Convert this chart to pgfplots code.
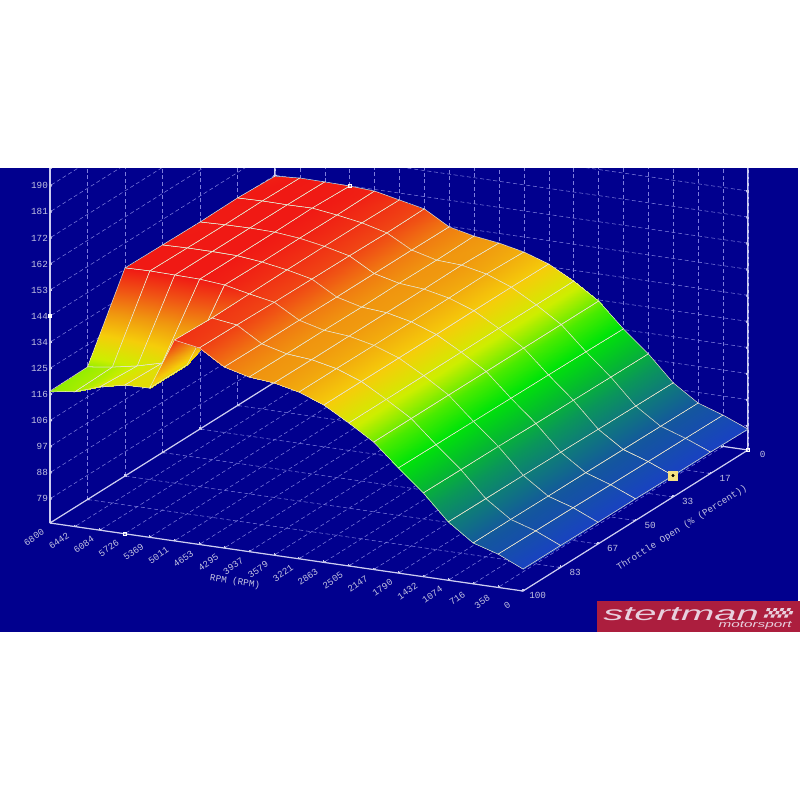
\documentclass[border=0pt]{standalone}
\usepackage{fontspec}
\usepackage{pgfplots}
\pgfplotsset{compat=1.18}
\setmainfont{Liberation Sans}
\newfontfamily\codefont{Liberation Mono}
\pgfdeclarelayer{background}
\pgfsetlayers{background,main}
\definecolor{bgblue}{RGB}{1,0,142}
\definecolor{axline}{RGB}{205,205,240}
\definecolor{gridc}{RGB}{125,125,220}
\definecolor{labc}{RGB}{195,195,225}
\definecolor{logored}{RGB}{172,30,62}
\definecolor{logotext}{RGB}{232,208,222}
\definecolor{markyellow}{RGB}{245,225,130}
\begin{document}
\begin{tikzpicture}
\begin{axis}[
  x={(-0.052169pt,0.0075pt)},
  y={(-1.6875pt,-1.0575pt)},
  z={(0pt,2.115pt)},
  xmin=0,xmax=6800,ymin=0,ymax=100,zmin=70.4,zmax=196.3,
  clip=false,
  xtick={0,358,716,1074,1432,1790,2147,2505,2863,3221,3579,3937,4295,4653,5011,5369,5726,6084,6442,6800},
  xticklabels={0,358,716,1074,1432,1790,2147,2505,2863,3221,3579,3937,4295,4653,5011,5369,5726,6084,6442,6800},
  ytick={0,16.67,33.33,50,66.67,83.33,100},
  yticklabels={0,17,33,50,67,83,100},
  ztick={79,88.25,97.5,106.75,116,125.25,134.5,143.75,153,162.25,171.5,180.75,190},
  zticklabels={79,88,97,106,116,125,134,144,153,162,172,181,190},
  grid=major,
  grid style={gridc,densely dashed,line width=0.4pt},
  axis line style={axline,line width=0.9pt},
  major tick style={axline,line width=0.8pt},
  major tick length=1.5pt,
  tick label style={font=\codefont\fontsize{7}{7.5}\selectfont,text=labc},
  x tick label style={rotate=35,anchor=center,xshift=-16pt,yshift=-2pt},
  y tick label style={anchor=center,xshift=11pt,yshift=-3.5pt},
  z tick label style={anchor=east,xshift=2pt},
  colormap={engine}{
    rgb255(0pt)=(25,65,195) rgb255(6pt)=(20,85,160) rgb255(12pt)=(15,120,125)
    rgb255(18pt)=(10,150,90) rgb255(24pt)=(5,188,45) rgb255(30pt)=(0,228,8)
    rgb255(36pt)=(75,235,0) rgb255(42pt)=(205,238,0) rgb255(48pt)=(245,205,10)
    rgb255(54pt)=(240,150,15) rgb255(60pt)=(240,85,20) rgb255(66pt)=(240,25,20)},
  point meta min=78,point meta max=144,
]
\addplot3[surf,shader=faceted interp,faceted color={rgb,255:red,232;green,228;blue,205},
  line width=0.38pt,z buffer=sort,mesh/cols=20,mesh/rows=7] coordinates {
(6800,0,143.4)(6442,0,144)(6084,0,143.9)(5726,0,143.7)(5369,0,143.2)(5011,0,141.3)(4653,0,139.4)(4295,0,134.3)(3937,0,132.3)(3579,0,131.1)(3221,0,129.2)(2863,0,126.2)(2505,0,121.4)(2147,0,115.6)(1790,0,107)(1432,0,99.4)(1074,0,90.4)(716,0,84.5)(358,0,81.5)(0,0,77.8)
(6800,16.67,144)(6442,16.67,144.2)(6084,16.67,144.1)(5726,16.67,144.2)(5369,16.67,143)(5011,16.67,141.5)(4653,16.67,139.2)(4295,16.67,134.4)(3937,16.67,132.1)(3579,16.67,131.6)(3221,16.67,129.7)(2863,16.67,126.3)(2505,16.67,121.3)(2147,16.67,115.6)(1790,16.67,107.2)(1432,16.67,99.5)(1074,16.67,90.5)(716,16.67,84.6)(358,16.67,81.6)(0,16.67,78)
(6800,33.33,143.8)(6442,33.33,144.1)(6084,33.33,144.2)(5726,33.33,144)(5369,33.33,143.1)(5011,33.33,141.5)(4653,33.33,139.4)(4295,33.33,134.4)(3937,33.33,132.2)(3579,33.33,131.4)(3221,33.33,129.5)(2863,33.33,126.3)(2505,33.33,121.3)(2147,33.33,115.6)(1790,33.33,107.3)(1432,33.33,99.6)(1074,33.33,90.6)(716,33.33,84.7)(358,33.33,81.7)(0,33.33,78)
(6800,50,144)(6442,50,144.2)(6084,50,144.2)(5726,50,144)(5369,50,143)(5011,50,141.5)(4653,50,139.5)(4295,50,134.4)(3937,50,132.1)(3579,50,131.4)(3221,50,129.4)(2863,50,126.2)(2505,50,121.2)(2147,50,115.6)(1790,50,107.4)(1432,50,99.7)(1074,50,90.8)(716,50,84.8)(358,50,81.8)(0,50,78.1)
(6800,66.67,144.2)(6442,66.67,144.4)(6084,66.67,144.2)(5726,66.67,144)(5369,66.67,143.2)(5011,66.67,141.3)(4653,66.67,139.6)(4295,66.67,134.5)(3937,66.67,132.2)(3579,66.67,131.4)(3221,66.67,129.4)(2863,66.67,126.2)(2505,66.67,121.2)(2147,66.67,115.6)(1790,66.67,107.5)(1432,66.67,99.9)(1074,66.67,90.9)(716,66.67,84.8)(358,66.67,82)(0,66.67,78.1)
(6800,83.33,117.4)(6442,83.33,118.6)(6084,83.33,120.3)(5726,83.33,122.6)(5369,83.33,123.2)(5011,83.33,141.1)(4653,83.33,139.9)(4295,83.33,134.5)(3937,83.33,132.2)(3579,83.33,131.4)(3221,83.33,129.5)(2863,83.33,126.2)(2505,83.33,121.1)(2147,83.33,115.6)(1790,83.33,107.6)(1432,83.33,100)(1074,83.33,91)(716,83.33,84.9)(358,83.33,82.1)(0,83.33,78.2)
(6800,100,117.2)(6442,100,118.2)(6084,100,121.2)(5726,100,123.1)(5369,100,123.3)(5011,100,141.6)(4653,100,140.1)(4295,100,134.6)(3937,100,132.3)(3579,100,131.5)(3221,100,129.5)(2863,100,126.2)(2505,100,121.1)(2147,100,115.6)(1790,100,107.7)(1432,100,100.1)(1074,100,91.1)(716,100,84.9)(358,100,82.2)(0,100,78.2)
};
\addplot3[only marks,mark=square*,mark size=3.3pt,mark options={fill=markyellow,draw=markyellow}] coordinates {(0,33.33,78)};
\addplot3[only marks,mark=*,mark size=0.9pt,mark options={fill=black,draw=black}] coordinates {(0,33.33,78)};
\addplot3[only marks,mark=square,mark size=1.3pt,mark options={draw=white,line width=0.6pt}] coordinates {(5726,0,143.7)(5726,100,70.4)(0,0,70.4)};
\addplot3[only marks,mark=square*,mark size=1.3pt,mark options={fill=white,draw=white}] coordinates {(6800,100,143.8)};
\coordinate (P) at (axis cs:0,100,70.4);
\end{axis}
\begin{scope}[shift={(P)},x=0.75pt,y=-0.75pt,shift={(-523,-591)}]
  \begin{pgfonlayer}{background}
    \fill[bgblue] (0,168) rectangle (798,632);
  \end{pgfonlayer}
  % crop of the plot at the top of the blue panel
  \fill[white] (0,0) rectangle (800,168);
  \path (0,0) rectangle (800,800);
  \node[rotate=-8,text=labc,font=\codefont\fontsize{7}{7.5}\selectfont] at (235,582) {RPM (RPM)};
  \node[rotate=32,text=labc,font=\codefont\fontsize{7}{7.5}\selectfont] at (682,528) {Throttle Open (\% (Percent))};
  \fill[logored] (597,601) rectangle (800,632);
  \node[anchor=west,text=logotext,inner sep=0pt] at (603,614) {\scalebox{2.0}[1]{\fontsize{15}{15}\selectfont\itshape stertman}};
  \node[anchor=east,text=logotext,inner sep=0pt] at (792,625) {\scalebox{1.64}[1]{\fontsize{7}{8}\selectfont\itshape motorsport}};
  \foreach \a in {0,...,7}{\foreach \b in {0,1,2}{
    \pgfmathtruncatemacro{\c}{mod(\a+\b,2)}
    \ifnum\c=0
      \pgfmathsetmacro{\X}{766+\a*3.4-(\b-1)*1.2}
      \pgfmathsetmacro{\Y}{608+\b*3.2}
      \fill[logotext] (\X,\Y) -- ++(3.4,0) -- ++(-1.2,3.2) -- ++(-3.4,0) -- cycle;
    \fi
  }}
\end{scope}
\end{tikzpicture}
\end{document}
